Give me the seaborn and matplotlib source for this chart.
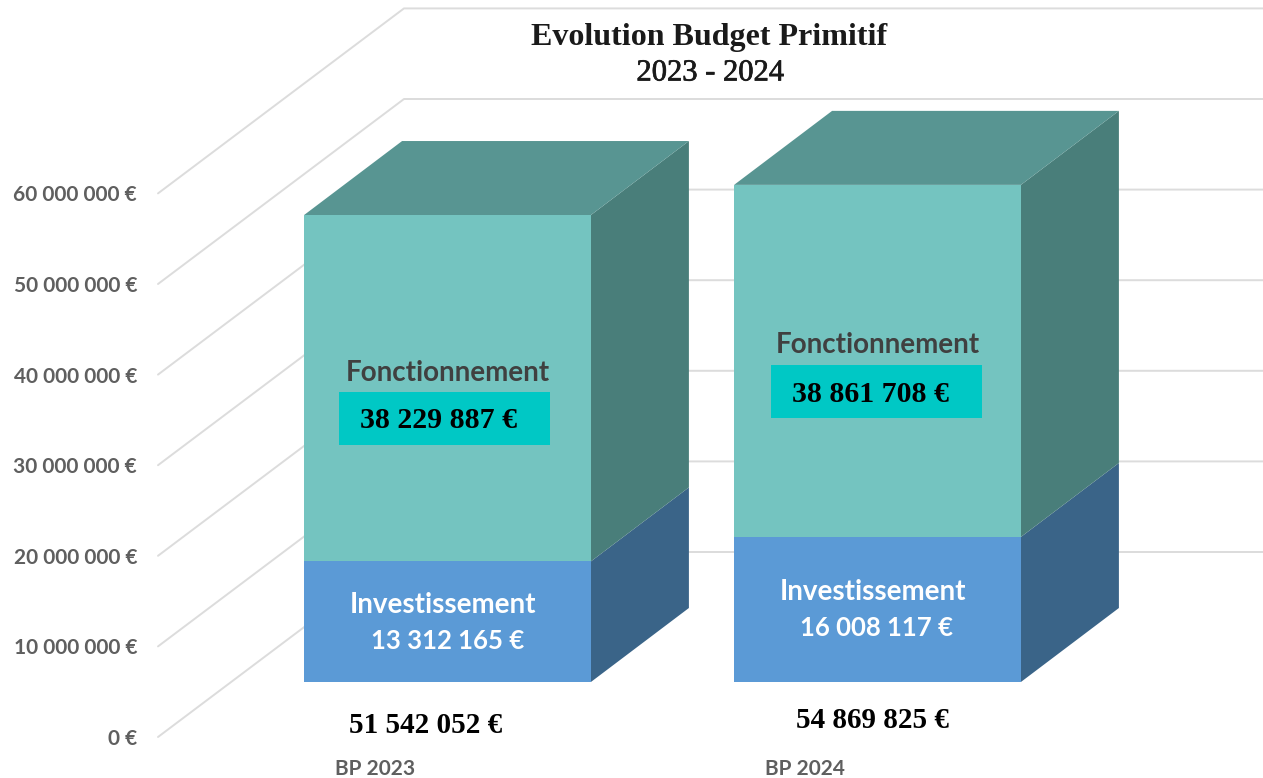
import matplotlib
matplotlib.use('Agg')
import matplotlib.pyplot as plt
import matplotlib.patheffects as pe
from matplotlib.patches import Rectangle
from matplotlib.transforms import Affine2D
import seaborn as sns

sns.set_style('white')

# data
budgets = ["BP 2023", "BP 2024"]
investissement = [13312165, 16008117]
fonctionnement = [38229887, 38861708]
fonct_labels = ["38 229 887 €", "38 861 708 €"]
invest_labels = ["13 312 165 €", "16 008 117 €"]
total_labels = ["51 542 052 €", "54 869 825 €"]
grid_values = [0, 10000000, 20000000, 30000000, 40000000, 50000000, 60000000]
grid_labels = ["0 €", "10 000 000 €", "20 000 000 €", "30 000 000 €",
               "40 000 000 €", "50 000 000 €", "60 000 000 €"]

# colours
BLUE, BLUE_SIDE = "#5B9AD6", "#3A6488"
TEAL, TEAL_SIDE, TEAL_TOP = "#74C4C0", "#497E7A", "#589592"
BOX = "#00C8C5"
GRID = "#DCDCDC"
TICK = "#5F5F5F"

W, H = 1263, 778
fig = plt.figure(figsize=(W / 100, H / 100), dpi=100)
ax = fig.add_axes([0, 0, 1, 1])

# one bar every 430 px, 9.06 px per million
PX_X = 430.0
PX_Y = 9.06e-6

# pixel coords for the text and boxes
px = Affine2D().scale(1 / W, -1 / H).translate(0, 1) + fig.transFigure

sns.barplot(x=budgets, y=investissement, color=BLUE, width=0.667, saturation=1,
            linewidth=0, ax=ax, zorder=4)
n = len(ax.patches)
sns.barplot(x=budgets, y=fonctionnement, bottom=investissement, color=TEAL,
            width=0.667, saturation=1, linewidth=0, ax=ax, zorder=4)
ax.set_xlim((0 - 447.5) / PX_X, (W - 447.5) / PX_X)
ax.set_ylim((682 - H) / PX_Y, 682 / PX_Y)
ax.axis('off')

# depth of the 3d look
dx = 98 / PX_X
dy = 74 / PX_Y

for i, bar in enumerate(ax.patches):
    x0 = bar.get_x()
    x1 = x0 + bar.get_width()
    y0 = bar.get_y()
    y1 = y0 + bar.get_height()
    side = BLUE_SIDE if i < n else TEAL_SIDE
    ax.fill([x1, x1 + dx, x1 + dx, x1], [y0, y0 + dy, y1 + dy, y1], color=side, lw=0, zorder=3)
    if i >= n:
        ax.fill([x0, x0 + dx, x1 + dx, x1], [y1, y1 + dy, y1 + dy, y1], color=TEAL_TOP, lw=0, zorder=3)

# walls: the tick end of each diagonal sits 55 px under the bar scale
tick_shift = -55 / PX_Y
wall_shift = 130 / PX_Y
xa = (158 - 447.5) / PX_X
xb = (404 - 447.5) / PX_X
xc = (W - 447.5) / PX_X
for v, lab in zip(grid_values, grid_labels):
    ax.plot([xa, xb, xc], [v + tick_shift, v + wall_shift, v + wall_shift],
            color=GRID, lw=1.4, zorder=1, solid_joinstyle='round')
    ax.text(xa - 21 / PX_X, v + tick_shift - 2 / PX_Y, lab, ha='right', va='center', color=TICK,
            fontsize=15, family='Lato', fontweight='bold')

ax.text(709, 37, "Evolution Budget Primitif", transform=px, ha='center', va='center',
        fontsize=23, family='Liberation Serif', fontweight='bold', color='#1a1a1a')
ax.text(710, 73, "2023 - 2024", transform=px, ha='center', va='center',
        fontsize=22, family='Liberation Serif', color='#1a1a1a',
        path_effects=[pe.withStroke(linewidth=0.5, foreground='#1a1a1a')])

box_xy = [(339, 392), (771, 365)]
fonct_xy = [(448, 373), (878, 345)]
value_xy = [(439, 421), (870, 395)]
inv_xy = [(443, 605), (873, 592)]
inv_val_xy = [(448, 641), (877, 628)]
total_xy = [(426, 726), (872, 721)]
x_lab_xy = [(375, 769), (805, 769)]

for i in range(len(budgets)):
    bx, by = box_xy[i]
    ax.add_patch(Rectangle((bx, by), 211, 53, transform=px, color=BOX, lw=0, zorder=5))
    ax.text(*fonct_xy[i], "Fonctionnement", transform=px, ha='center', va='center', color='#404040',
            fontsize=20, family='Lato', fontweight='bold', zorder=6)
    ax.text(*value_xy[i], fonct_labels[i], transform=px, ha='center', va='center', color='black',
            fontsize=21.5, family='Liberation Serif', fontweight='bold', zorder=6)
    ax.text(*inv_xy[i], "Investissement", transform=px, ha='center', va='center', color='white',
            fontsize=20, family='Lato', fontweight='bold', zorder=6)
    ax.text(*inv_val_xy[i], invest_labels[i], transform=px, ha='center', va='center', color='white',
            fontsize=18.5, family='Lato', fontweight='bold', zorder=6)
    ax.text(*total_xy[i], total_labels[i], transform=px, ha='center', va='center', color='black',
            fontsize=21, family='Liberation Serif', fontweight='bold', zorder=6)
    ax.text(*x_lab_xy[i], budgets[i], transform=px, ha='center', va='center', color=TICK,
            fontsize=15, family='Lato', fontweight='bold', zorder=6)

fig.savefig('out.png', dpi=100)
